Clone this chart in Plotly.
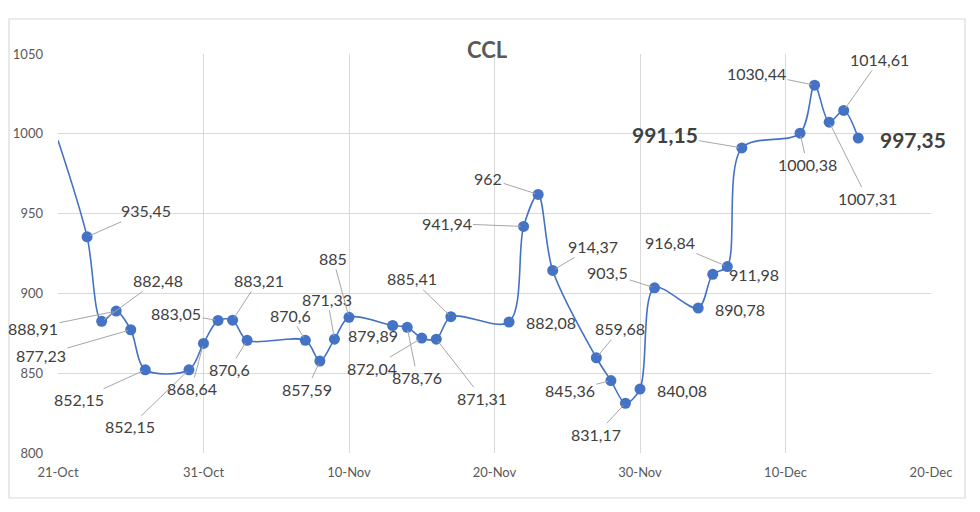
import plotly.graph_objects as go

# ---------------- data ----------------
dates = ["2023-10-21", "2023-10-23", "2023-10-24", "2023-10-25", "2023-10-26", "2023-10-27",
         "2023-10-30", "2023-10-31", "2023-11-01", "2023-11-02", "2023-11-03",
         "2023-11-07", "2023-11-08", "2023-11-09", "2023-11-10",
         "2023-11-13", "2023-11-14", "2023-11-15", "2023-11-16", "2023-11-17",
         "2023-11-21", "2023-11-22", "2023-11-23", "2023-11-24",
         "2023-11-27", "2023-11-28", "2023-11-29", "2023-11-30", "2023-12-01",
         "2023-12-04", "2023-12-05", "2023-12-06", "2023-12-07",
         "2023-12-11", "2023-12-12", "2023-12-13", "2023-12-14", "2023-12-15"]
values = [996.0, 935.45, 882.48, 888.91, 877.23, 852.15,
          852.15, 868.64, 883.05, 883.21, 870.6,
          870.6, 857.59, 871.33, 885,
          879.89, 878.76, 872.04, 871.31, 885.41,
          882.08, 941.94, 962, 914.37,
          859.68, 845.36, 831.17, 840.08, 903.5,
          890.78, 911.98, 916.84, 991.15,
          1000.38, 1030.44, 1007.31, 1014.61, 997.35]
title_text = "CCL"
y_ticks = [800, 850, 900, 950, 1000, 1050]

# ---------------- styling (label placement in pixels) ----------------
# offsets of each label centre from its marker (first point has no label)
label_ax = [None, 59, 56, -83, -90, -66,
            -59, -12, -42, 26, -18,
            -15, -13, -7, -16,
            -20, 10, -50, 46, -39,
            42, -77, -50, 40,
            24, -41, -29, 42, -47,
            42, 41, -57, -77,
            7, -58, 38, 36, 55]
label_ay = [None, -26, -41, 17, 26, 30,
            57, 45, -7, -40, 29,
            -25, 28, -40, -59,
            10, 50, 30, 59, -38,
            0, -3, -16, -24,
            -29, 10, 31, 1, -15,
            1, 0, -24, -13,
            31, -12, 76, -51, 1]
leader = [False, True, True, True, True, True,
          True, True, True, True, True,
          True, True, True, True,
          False, True, True, True, True,
          False, True, True, True,
          True, True, True, False, True,
          False, False, True, True,
          True, True, True, True, False]
big = [False] * (len(values) - 1) + [True]
big[32] = True  # 991,15

BLUE = "#4472C4"
marker_sizes = [0] + [11] * (len(values) - 1)

fig = go.Figure()
fig.add_trace(go.Scatter(
    x=dates, y=values, mode="lines+markers",
    line=dict(color=BLUE, width=1.6, shape="spline", smoothing=0.9),
    marker=dict(color=BLUE, size=marker_sizes, opacity=1, line=dict(width=0)),
    cliponaxis=True, hoverinfo="skip", showlegend=False,
))

def fmt(v):
    return f"{v:g}".replace(".", ",")

annotations = []
for i, (d, v) in enumerate(zip(dates, values)):
    if label_ax[i] is None:
        continue
    annotations.append(dict(
        x=d, y=v, xref="x", yref="y",
        text=("<b>%s</b>" % fmt(v)) if big[i] else fmt(v),
        showarrow=True, arrowhead=0, arrowwidth=1,
        arrowcolor="#A6A6A6" if leader[i] else "rgba(0,0,0,0)",
        ax=label_ax[i], ay=label_ay[i], standoff=3,
        font=dict(family="Lato, Open Sans, sans-serif",
                  size=21 if big[i] else 16, color="#404040"),
    ))

# plot area in pixels: left 58, right 931, top 54, bottom 453
L, R, T, B = 58, 931, 54, 453
W, H = 980, 512
pw, ph = R - L, B - T
def px_x(p):
    return (p - L) / pw
def px_y(p):
    return (B - p) / ph

annotations.append(dict(
    x=px_x(487), y=px_y(49), xref="paper", yref="paper", showarrow=False,
    text="<b>%s</b>" % title_text, xanchor="center", yanchor="middle",
    font=dict(family="Lato, Open Sans, sans-serif", size=22, color="#595959"),
))

fig.update_layout(
    width=W, height=H,
    margin=dict(l=L, r=W - R, t=T, b=H - B),
    paper_bgcolor="white", plot_bgcolor="white",
    annotations=annotations,
    shapes=[dict(type="rect", xref="paper", yref="paper",
                 x0=px_x(9), x1=px_x(965), y0=px_y(498), y1=px_y(19),
                 line=dict(color="#D9D9D9", width=1.2), layer="below")],
    xaxis=dict(
        type="date", range=["2023-10-21", "2023-12-20"],
        tick0="2023-10-21", dtick=10 * 86400000, tickformat="%-d-%b",
        showgrid=True, gridcolor="#D9D9D9", gridwidth=1,
        zeroline=False, showline=False, ticks="",
        ticklabelstandoff=10,
        tickfont=dict(family="Lato, Open Sans, sans-serif", size=13, color="#595959"),
    ),
    yaxis=dict(
        range=[800, 1050], tickvals=y_ticks,
        showgrid=True, gridcolor="#D9D9D9", gridwidth=1,
        zeroline=False, showline=False, ticks="",
        ticklabelstandoff=14,
        tickfont=dict(family="Lato, Open Sans, sans-serif", size=13, color="#595959"),
    ),
)

fig.write_html("out.html")
